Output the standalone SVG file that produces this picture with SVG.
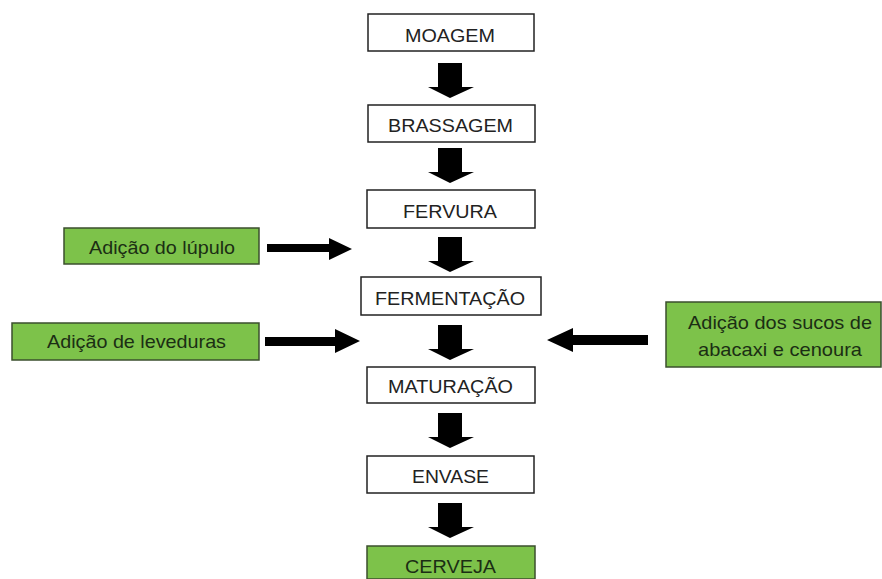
<svg xmlns="http://www.w3.org/2000/svg" width="882" height="579" viewBox="0 0 882 579">
<style>
.box{fill:#fff;stroke:#222;stroke-width:1.5}
.gbox{fill:#7dc24a;stroke:#3b4f2e;stroke-width:1.5}
text{font-family:"Liberation Sans",Arial,sans-serif;font-size:19px;fill:#222;text-anchor:middle}
.g text{fill:#1b2e14}
.arr{fill:#000}
</style>
<defs>
<path id="down" d="M438,0 H462 V24 H474 L450,35 L428,24 H438 Z"/>
</defs>
<rect width="882" height="579" fill="#fff"/>
<g id="moagem"><rect class="box" x="368" y="14" width="166" height="37"/><text x="450" y="42" textLength="90" lengthAdjust="spacingAndGlyphs">MOAGEM</text></g>
<g id="brassagem"><rect class="box" x="368" y="105" width="167" height="37"/><text x="450.5" y="132" textLength="125" lengthAdjust="spacingAndGlyphs">BRASSAGEM</text></g>
<g id="fervura"><rect class="box" x="367" y="190" width="168" height="38"/><text x="450" y="218" textLength="94" lengthAdjust="spacingAndGlyphs">FERVURA</text></g>
<g id="fermentacao"><rect class="box" x="361" y="277" width="180" height="38"/><text x="450" y="305" textLength="150" lengthAdjust="spacingAndGlyphs">FERMENTAÇÃO</text></g>
<g id="maturacao"><rect class="box" x="367" y="367" width="168" height="36"/><text x="450.5" y="393" textLength="125" lengthAdjust="spacingAndGlyphs">MATURAÇÃO</text></g>
<g id="envase"><rect class="box" x="367" y="456" width="167" height="37"/><text x="450.5" y="483" textLength="77" lengthAdjust="spacingAndGlyphs">ENVASE</text></g>
<g id="cerveja" class="g"><rect class="gbox" x="367" y="546" width="168" height="33"/><text x="450.5" y="573" textLength="91" lengthAdjust="spacingAndGlyphs">CERVEJA</text></g>
<g id="lupulo" class="g"><rect class="gbox" x="64" y="228" width="195" height="36"/><text x="162" y="254" textLength="146" lengthAdjust="spacingAndGlyphs">Adição do lúpulo</text></g>
<g id="leveduras" class="g"><rect class="gbox" x="12" y="323" width="247" height="37"/><text x="136.5" y="348" textLength="179" lengthAdjust="spacingAndGlyphs">Adição de leveduras</text></g>
<g id="sucos" class="g"><rect class="gbox" x="666" y="302" width="215" height="65"/><text x="780" y="329" textLength="184" lengthAdjust="spacingAndGlyphs">Adição dos sucos de</text><text x="780" y="356" textLength="164" lengthAdjust="spacingAndGlyphs">abacaxi e cenoura</text></g>
<g id="connectors" class="arr">
<use href="#down" y="63"/>
<use href="#down" y="148"/>
<use href="#down" y="237"/>
<use href="#down" y="325"/>
<use href="#down" y="413"/>
<use href="#down" y="503"/>
<path d="M267,244 H329 V238 L352,249 L329,260 V252 H267 Z"/>
<path d="M265,337 H335 V329 L360,341 L335,353 V346 H265 Z"/>
<path d="M648,335 H573 V328 L547,340 L573,352 V345 H648 Z"/>
</g>
</svg>
